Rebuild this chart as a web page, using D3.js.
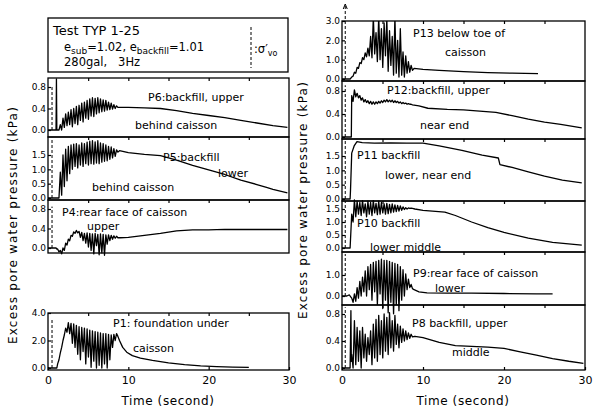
<!DOCTYPE html>
<html><head><meta charset="utf-8">
<script src="https://cdn.jsdelivr.net/npm/d3@7"></script>
<style>
body{margin:0;background:#fff}
svg text{font-family:"DejaVu Sans",sans-serif;fill:#000}
</style>
</head><body>
<svg id="c" width="595" height="414"></svg>
<script>
// ---------------- DATA ----------------
const xTickLabels = [0, 10, 20, 30];
const gauges = ["P6","P5","P4","P1","P13","P12","P11","P10","P9","P8"];
const yTicks = [
  [0.0,0.4,0.8],[0.0,0.5,1.0,1.5],[0.0,0.4,0.8],[0.0,2.0,4.0],
  [0.0,1.0,2.0,3.0],[0.0,0.4,0.8],[0.0,0.5,1.0,1.5],[0.0,0.5,1.0,1.5],[0.0,1.0],[0.0,0.4,0.8]
];
const sigmaV0 = [0.8, 2.1, 0.85, 3.5, 3.8, 0.9, 2.1, 1.8, 2.0, 0.9];
const panelText = [
  ["P6:backfill, upper","behind caisson"],
  ["P5:backfill","lower","behind caisson"],
  ["P4:rear face of caisson","upper"],
  ["P1: foundation under","caisson"],
  ["P13 below toe of","caisson"],
  ["P12:backfill, upper","near end"],
  ["P11 backfill","lower, near end"],
  ["P10 backfill","lower middle"],
  ["P9:rear face of caisson","lower"],
  ["P8 backfill, upper","middle"]
];
// sample times during shaking (3 Hz, peak/trough samples)
const shakeT = [1.2,1.367,1.533,1.7,1.867,2.033,2.2,2.367,2.533,2.7,2.867,3.033,3.2,3.367,3.533,3.7,3.867,4.033,4.2,4.367,4.533,4.7,4.867,5.033,5.2,5.367,5.533,5.7,5.867,6.033,6.2,6.367,6.533,6.7,6.867,7.033,7.2,7.367,7.533,7.7,7.867,8.033,8.2,8.367,8.533,8.7];

const p6Slow = [[0,0],[1.0,0],[1.05,0.95],[1.1,0],[9.0,0.42],[10,0.42],[12,0.41],[14,0.40],[16,0.36],[18,0.31],[20,0.27],[22,0.23],[24,0.18],[26,0.13],[28,0.08],[29.8,0.05]];
const p6Shake = [0,0,0.10,0,0.22,0.05,0.30,0.08,0.33,0.10,0.38,0.06,0.40,0.12,0.44,0.10,0.46,0.18,0.50,0.15,0.52,0.22,0.55,0.20,0.58,0.26,0.60,0.25,0.59,0.30,0.60,0.32,0.58,0.34,0.56,0.35,0.55,0.37,0.52,0.38,0.50,0.39,0.47,0.40,0.45,0.42];

const p5Slow = [[0,0],[1.1,0],[8.9,1.65],[10,1.58],[12,1.52],[14,1.48],[16,1.32],[18,1.14],[20,0.98],[22,0.82],[24,0.62],[26,0.47],[27.2,0.37],[28,0.30],[29.8,0.18]];
const p5Shake = [0,0,0.90,0.10,1.50,0.40,1.70,0.60,1.80,0.85,1.85,1.00,1.88,1.10,1.90,1.05,1.85,1.15,1.92,1.10,1.90,1.20,1.95,1.15,1.98,1.20,2.00,1.18,1.96,1.22,2.00,1.20,1.92,1.25,1.90,1.28,1.85,1.30,1.80,1.35,1.78,1.40,1.72,1.45,1.68,1.60];

const p4Slow = [[0,0],[1.0,0],[1.1,-0.02],[9,0.21],[10,0.22],[12,0.26],[14,0.30],[16,0.35],[18,0.37],[20,0.37],[22,0.38],[25,0.38],[28,0.38],[29.8,0.38]];
const p4Shake = [-0.02,-0.08,-0.05,-0.12,0.00,-0.05,0.10,0.06,0.18,0.15,0.26,0.24,0.33,0.30,0.36,0.31,0.34,0.22,0.32,0.15,0.30,0.10,0.31,0.02,0.30,-0.05,0.29,-0.12,0.30,0.05,0.28,-0.14,0.29,-0.10,0.28,-0.15,0.27,0.08,0.27,0.15,0.26,0.18,0.25,0.20,0.24,0.21];

const p1Slow = [[0,0],[1.1,0],[8.9,2.0],[9.3,1.5],[9.8,1.15],[10.5,0.9],[11.5,0.72],[13,0.55],[15,0.38],[17,0.25],[19,0.15],[21,0.10],[23,0.06],[25,0.04]];
const p1Shake = [0.30,0.60,1.10,1.50,2.00,2.40,2.90,2.60,3.30,2.50,3.25,1.80,3.20,1.50,3.10,1.00,3.00,0.60,2.95,1.20,2.90,0.30,2.85,0.80,2.75,0.05,2.70,0.50,2.65,0.00,2.60,0.20,2.55,0.00,2.50,0.30,2.50,0.00,2.45,0.60,2.40,1.50,2.45,2.00,2.50,2.30];

const p13Slow = [[0,0],[1.0,0],[8.9,0.55],[10,0.50],[12,0.45],[15,0.38],[18,0.33],[21,0.30],[24.2,0.28]];
const p13Shake = [0.10,0.15,0.35,0.30,0.60,0.55,0.85,0.80,1.10,1.00,1.35,1.15,1.60,1.20,2.20,1.10,3.20,1.30,2.40,0.90,3.20,1.00,2.60,0.60,2.90,1.20,3.10,0.40,2.50,0.70,2.20,0.20,3.20,0.30,2.00,0.10,2.60,0.20,1.40,0.10,1.20,0.30,0.90,0.35,0.70,0.45];

const p12Slow = [[0,0],[1.15,0],[9.5,0.54],[10.6,0.50],[13,0.48],[15,0.47],[17,0.45],[19,0.43],[21,0.37],[23,0.31],[25,0.26],[27,0.22],[29.6,0.16]];
const p12Shake = [0.72,0.62,0.82,0.70,0.76,0.68,0.72,0.64,0.68,0.61,0.65,0.60,0.63,0.58,0.62,0.57,0.61,0.57,0.61,0.58,0.62,0.59,0.63,0.60,0.64,0.61,0.65,0.61,0.64,0.61,0.64,0.60,0.63,0.60,0.62,0.59,0.61,0.58,0.60,0.58,0.59,0.57,0.58,0.57,0.57,0.56];

const p11Slow = [[0,0],[1.0,0],[1.05,0.3],[1.2,1.6],[1.5,1.85],[1.85,2.0],[2.5,1.97],[4,1.95],[6,1.96],[8,1.95],[10,1.95],[12,1.85],[14.8,1.7],[17.3,1.53],[19.3,1.43],[19.5,1.2],[21,1.1],[23,0.95],[25,0.8],[27.2,0.66],[29.6,0.56]];
const p11Shake = [];

const p10Slow = [[0,0],[1.0,0],[9,1.5],[10,1.45],[12.7,1.38],[14,1.25],[16,1.0],[18,0.78],[20,0.6],[23,0.38],[26,0.22],[29.6,0.11]];
const p10Shake = [1.30,1.00,1.85,1.20,1.80,1.30,1.75,1.25,1.82,1.35,1.70,1.20,1.80,1.30,1.75,1.25,1.82,1.35,1.72,1.28,1.80,1.30,1.75,1.35,1.70,1.30,1.72,1.32,1.68,1.35,1.70,1.38,1.66,1.40,1.64,1.42,1.62,1.45,1.58,1.48,1.55,1.50,1.54,1.52,1.53,1.52];

const p9Slow = [[0,0],[0.6,0],[0.9,0.05],[1.1,-0.05],[8.9,0.3],[9.5,0.2],[10.5,0.15],[13,0.14],[16,0.14],[20,0.12],[24,0.10],[26,0.10]];
const p9Shake = [-0.10,-0.30,0.10,-0.25,0.40,-0.10,0.70,0.00,0.90,0.20,1.20,0.00,1.40,0.30,1.50,-0.20,1.60,0.20,1.65,-0.40,1.70,0.10,1.75,-0.60,1.70,-0.20,1.70,-0.80,1.65,-0.30,1.60,-0.85,1.55,-0.40,1.50,-0.70,1.40,-0.20,1.25,0.00,1.05,0.30,0.80,0.40,0.55,0.35];

const p8Slow = [[0,0],[1.0,0],[1.1,0.85],[1.15,0.1],[9,0.47],[10,0.45],[12,0.38],[14,0.33],[16,0.32],[18,0.31],[20,0.29],[22,0.24],[24,0.19],[26,0.14],[28,0.10],[29.8,0.07]];
const p8Shake = [0.20,0.00,0.70,0.05,0.60,0.10,0.55,0.00,0.60,0.15,0.50,0.10,0.45,0.20,0.55,0.05,0.65,0.15,0.72,0.10,0.78,0.20,0.70,0.15,0.80,0.25,0.75,0.20,0.82,0.30,0.70,0.25,0.78,0.35,0.65,0.30,0.62,0.38,0.58,0.40,0.55,0.42,0.52,0.44,0.50,0.46];

const slowData  = [p6Slow,p5Slow,p4Slow,p1Slow,p13Slow,p12Slow,p11Slow,p10Slow,p9Slow,p8Slow];
const shakeData = [p6Shake,p5Shake,p4Shake,p1Shake,p13Shake,p12Shake,p11Shake,p10Shake,p9Shake,p8Shake];

// ---------------- LAYOUT ----------------
const colRange = [[48,289],[342,585]];
const layout = [
  {col:0, top:78,  bottom:137, zero:130, tickTopPx:87,  lab:[[148,101],[135,129]]},
  {col:0, top:137, bottom:200, zero:198, tickTopPx:155, lab:[[163,161],[218,177],[92,191]]},
  {col:0, top:200, bottom:253, zero:248, tickTopPx:209, lab:[[62,216],[87,230]]},
  {col:0, top:313, bottom:370, zero:368, tickTopPx:313, lab:[[113,327],[133,352]], xaxis:true},
  {col:1, top:21,  bottom:81,  zero:79,  tickTopPx:21,  lab:[[413,37],[445,56]], clip:true},
  {col:1, top:81,  bottom:139, zero:137, tickTopPx:91,  lab:[[387,94],[420,129]]},
  {col:1, top:139, bottom:201, zero:199, tickTopPx:156, lab:[[357,159],[385,179]]},
  {col:1, top:201, bottom:252, zero:248, tickTopPx:209, lab:[[357,227],[370,251]]},
  {col:1, top:252, bottom:305, zero:296, tickTopPx:275, lab:[[413,277],[435,292]]},
  {col:1, top:305, bottom:370, zero:368, tickTopPx:314, lab:[[412,327],[452,356]], xaxis:true}
];
const sigmaT = [0.5, 0.4];

// ---------------- DRAW ----------------
const svg = d3.select("#c");
const xs = colRange.map(r => d3.scaleLinear().domain([0,30]).range(r));
const defs = svg.append("defs");

gauges.forEach((g, i) => {
  const L = layout[i], x = xs[L.col];
  const tk = yTicks[i];
  const y = d3.scaleLinear().domain([0, tk[tk.length-1]]).range([L.zero, L.tickTopPx]);
  const gp = svg.append("g");
  gp.append("rect").attr("x", x(0)).attr("y", L.top)
    .attr("width", x(30)-x(0)).attr("height", L.bottom-L.top)
    .attr("fill","none").attr("stroke","#000").attr("stroke-width",1.3);
  const ya = gp.append("g").attr("transform",`translate(${x(0)},0)`)
    .call(d3.axisLeft(y).tickValues(tk).tickSize(-3).tickPadding(2).tickFormat(d3.format(".1f")));
  ya.select(".domain").remove();
  ya.selectAll("text").attr("font-size",9).style("font-family","DejaVu Sans");
  ya.selectAll("line").attr("stroke-width",1.2);
  const ta = gp.append("g").attr("transform",`translate(0,${L.top})`)
    .call(d3.axisTop(x).tickValues([5,10,15,20,25]).tickSize(-3).tickFormat(""));
  ta.select(".domain").remove();
  ta.selectAll("line").attr("stroke-width",1.2);
  if (L.xaxis) {
    const xa = gp.append("g").attr("transform",`translate(0,${L.bottom})`)
      .call(d3.axisBottom(x).tickValues(xTickLabels).tickSize(-3).tickPadding(6).tickFormat(d3.format("d")));
    xa.select(".domain").remove();
    xa.selectAll("text").attr("font-size",11).style("font-family","DejaVu Sans");
    xa.selectAll("line").attr("stroke-width",1.2);
  }
  gp.append("line").attr("x1", x(sigmaT[L.col])).attr("x2", x(sigmaT[L.col]))
    .attr("y1", y(0)).attr("y2", y(sigmaV0[i]))
    .attr("stroke","#000").attr("stroke-width",1).attr("stroke-dasharray","3,2");
  const sl = slowData[i], sh = shakeData[i];
  let series;
  if (sh.length) {
    const t0 = shakeT[0], t1 = shakeT[shakeT.length-1];
    series = sl.filter(d => d[0] < t0)
      .concat(sh.map((v,k) => [shakeT[k], v]))
      .concat(sl.filter(d => d[0] > t1));
  } else series = sl;
  const path = gp.append("path").datum(series)
    .attr("d", d3.line().x(d => x(d[0])).y(d => y(d[1])))
    .attr("fill","none").attr("stroke","#000").attr("stroke-width",1.3).attr("stroke-linejoin","round");
  if (L.clip) {
    defs.append("clipPath").attr("id","clip"+i).append("rect")
      .attr("x", x(0)).attr("y", L.top).attr("width", x(30)-x(0)).attr("height", L.bottom-L.top);
    path.attr("clip-path", `url(#clip${i})`);
  }
  panelText[i].forEach((s, k) => {
    gp.append("text").attr("x", L.lab[k][0]).attr("y", L.lab[k][1])
      .attr("font-size", 11).text(s);
  });
});

svg.append("path").attr("d", `M${xs[1](sigmaT[1])-2},9 L${xs[1](sigmaT[1])},4 L${xs[1](sigmaT[1])+2},9`)
  .attr("fill","none").attr("stroke","#000").attr("stroke-width",1);

[[17,225],[307,200]].forEach(p => {
  svg.append("text").attr("transform",`translate(${p[0]},${p[1]}) rotate(-90)`)
    .attr("text-anchor","middle").attr("font-size",12).attr("letter-spacing",1.2)
    .text("Excess pore water pressure (kPa)");
});
[[168,405],[463,405]].forEach(p => {
  svg.append("text").attr("x",p[0]).attr("y",p[1]).attr("text-anchor","middle")
    .attr("font-size",12).attr("letter-spacing",0.6).text("Time (second)");
});

svg.append("rect").attr("x",48).attr("y",18).attr("width",240).attr("height",54)
  .attr("fill","none").attr("stroke","#000").attr("stroke-width",1.3);
svg.append("text").attr("x",53).attr("y",35).attr("font-size",13).text("Test TYP 1-25");
const t2 = svg.append("text").attr("x",64).attr("y",51).attr("font-size",11.5);
t2.append("tspan").text("e");
t2.append("tspan").attr("font-size",9).attr("dy",3).text("sub");
t2.append("tspan").attr("dy",-3).text("=1.02, e");
t2.append("tspan").attr("font-size",9).attr("dy",3).text("backfill");
t2.append("tspan").attr("dy",-3).text("=1.01");
svg.append("text").attr("x",64).attr("y",66).attr("font-size",11.5).attr("xml:space","preserve").text("280gal,   3Hz");
svg.append("line").attr("x1",251).attr("x2",251).attr("y1",27).attr("y2",68)
  .attr("stroke","#000").attr("stroke-width",1).attr("stroke-dasharray","3,2");
const sg = svg.append("text").attr("x",254).attr("y",53).attr("font-size",11.5);
sg.append("tspan").text(":σ′");
sg.append("tspan").attr("font-size",8).attr("dy",3).text("vo");
</script>
</body></html>
